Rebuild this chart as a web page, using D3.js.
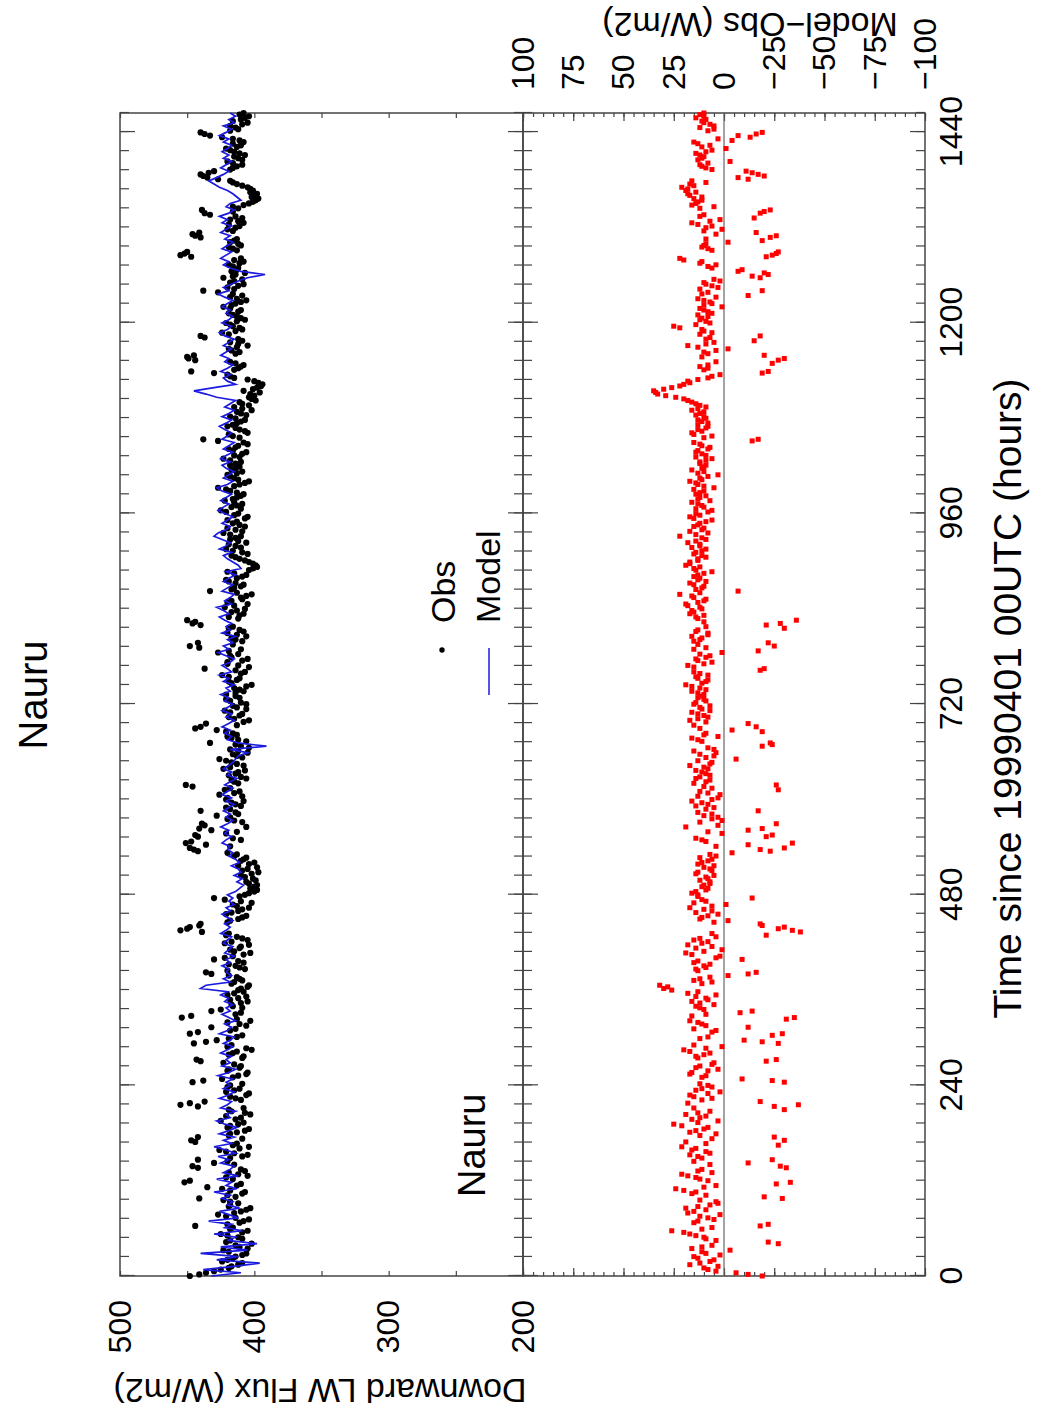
<!DOCTYPE html>
<html>
<head>
<meta charset="utf-8">
<script src="https://cdn.jsdelivr.net/npm/d3@7"></script>
<style>
body { margin:0; background:#fff; }
text { font-family:"Liberation Sans", Arial, Helvetica, sans-serif; fill:#000; }
</style>
</head>
<body>
<div class="container"></div>
<script>
// obs / model / model-obs, one value every step hours
var obs = [
 448,436,425,417,409,420,414,406,423,411,402,418,
 412,425,405,416,420,408,414,427,410,403,418,418,
 441,420,407,424,413,452,416,405,419,410,446,430,
 442,409,415,426,404,413,447,442,418,407,420,412,
 425,410,403,417,408,455,437,414,406,421,411,418,
 446,424,412,405,419,410,423,443,408,416,402,420,
 445,428,413,448,418,432,411,403,454,414,432,409,
 417,405,412,420,408,410,404,415,411,419,436,407,
 414,408,430,416,403,418,410,422,405,413,419,455,
 448,440,418,409,421,412,404,416,410,430,407,400,
 403,398,406,401,410,397,405,412,400,408,415,420,
 445,418,451,410,442,421,432,406,439,415,418,412,
 440,421,414,408,420,426,411,418,451,415,406,419,
 412,423,408,417,426,413,405,418,410,433,412,420,
 416,428,440,436,404,419,409,422,413,406,418,411,
 421,408,415,402,419,411,424,407,437,412,420,405,
 418,427,410,448,442,414,406,420,411,416,446,450,
 419,408,413,422,405,417,410,402,433,415,408,419,
 413,406,420,401,399,404,411,417,409,421,414,406,
 418,410,423,414,407,416,420,405,412,425,417,409,
 422,413,408,418,427,411,404,415,420,409,414,418,
 410,423,415,406,419,412,408,438,416,405,411,420,
 413,407,418,410,402,415,409,399,404,403,408,398,
 394,400,415,420,447,412,408,418,449,445,411,419,
 405,418,412,440,424,409,416,421,407,413,419,410,
 423,414,406,418,416,438,420,408,415,423,414,417,
 412,419,408,410,455,450,416,410,418,413,444,441,
 420,411,408,418,414,437,439,416,404,399,402,398,
 401,405,413,418,435,440,430,416,409,420,412,407,
 415,421,410,408,416,433,440,412,418,405,410,404,
 408];

// obs half way between the samples above
var obsMid = [
 441,430,419,412,424,416,409,419,405,414,421,409,
 420,409,418,444,411,404,421,415,406,419,412,423,
 414,409,418,435,410,448,421,412,407,442,415,420,
 418,405,421,411,416,444,409,419,413,404,418,408,
 414,421,407,419,442,448,410,418,404,415,420,409,
 438,416,406,420,411,415,440,409,419,413,406,417,
 436,419,409,442,414,406,420,413,447,410,425,416,
 410,418,406,415,412,405,417,409,413,432,420,411,
 419,412,422,408,415,411,404,417,409,421,439,450,
 441,420,412,406,417,409,413,402,422,411,404,398,
 400,404,399,407,402,409,398,404,410,406,413,442,
 448,436,447,416,444,413,441,437,409,420,428,414,
 418,410,417,421,409,415,422,446,412,417,410,414,
 407,418,413,421,409,416,412,404,414,406,417,413,
 421,444,413,408,415,411,418,406,416,410,421,414,
 414,411,406,417,413,419,410,414,404,420,409,417,
 412,419,441,416,409,417,413,408,419,440,444,412,
 411,417,407,415,420,409,406,413,417,410,414,421,
 409,415,404,398,401,407,414,405,416,410,419,412,
 414,418,409,420,411,413,407,415,421,410,413,415,
 416,410,413,421,415,407,412,418,413,417,411,414,
 418,411,409,416,414,405,427,411,419,407,414,416,
 410,414,406,413,409,404,411,402,400,396,401,395,
 397,405,418,430,415,410,414,444,450,414,417,413,
 412,409,437,419,414,411,418,413,410,416,412,418,
 417,410,413,409,427,415,412,418,409,416,407,413,
 416,411,415,447,452,413,419,412,415,440,446,416,
 414,419,412,409,433,416,412,408,401,397,400,403,
 403,409,416,427,438,434,418,413,416,409,415,411,
 418,413,416,411,424,437,418,414,409,416,407,411];

var model = [
 432,410,438,415,396,428,412,440,405,425,398,420,
 414,430,409,422,417,434,412,419,426,411,420,416,
 424,418,430,413,421,417,428,412,423,418,415,425,
 419,427,414,421,430,417,423,415,426,419,413,422,
 428,418,421,414,425,420,417,426,419,415,423,418,
 421,416,427,419,414,424,418,421,417,425,420,416,
 423,418,415,426,420,417,422,414,419,424,418,421,
 416,422,419,425,420,440,436,418,423,417,421,419,
 424,418,421,415,422,419,416,423,420,417,425,421,
 418,422,416,420,424,418,421,415,419,416,420,414,
 411,408,413,409,415,410,412,417,411,414,419,416,
 420,418,424,421,417,422,419,425,420,416,421,418,
 423,419,415,421,417,424,420,416,422,418,413,420,
 417,423,419,416,414,412,405,418,391,412,420,417,
 422,418,424,419,415,421,417,424,420,416,422,419,
 425,418,421,415,423,419,426,417,420,424,418,415,
 421,427,419,423,416,420,414,424,418,421,417,422,
 426,419,423,428,417,422,418,415,424,420,416,423,
 419,414,421,410,412,416,420,423,417,426,421,418,
 424,430,427,421,418,424,420,416,422,427,423,419,
 425,421,417,424,428,420,416,423,419,415,421,424,
 418,425,421,416,423,419,415,424,420,417,422,426,
 421,417,424,419,415,422,418,414,428,436,445,430,
 414,420,423,418,425,420,416,422,419,425,421,417,
 423,419,415,422,426,420,417,424,419,416,421,418,
 424,420,416,422,427,419,423,417,412,405,392,410,
 418,423,419,425,421,417,424,420,416,422,418,425,
 421,417,424,420,426,419,415,421,418,410,413,416,
 420,426,430,434,428,423,419,425,421,417,423,419,
 424,420,417,423,419,426,421,417,423,415,419,414,
 418];

var diff = [
 -19,-6,8,3,12,5,15,9,-3,11,-27,4,
 10,17,26,6,-22,13,8,2,15,19,7,4,
 -29,9,14,24,4,-33,12,18,6,11,-28,-12,
 -24,13,7,16,21,9,-30,-25,4,14,8,25,
 3,12,19,7,15,-37,-18,6,17,2,11,8,
 -30,-9,9,16,3,12,5,-26,14,7,20,1,
 -27,-10,8,-29,4,-12,11,17,-35,9,-14,12,
 5,16,9,4,13,30,32,6,12,-2,-16,14,
 10,15,-9,2,19,1,6,11,15,4,6,-34,
 -30,-18,-2,11,3,6,17,-1,9,-14,13,14,
 8,10,7,8,5,13,7,5,11,6,4,-4,
 -18,4,-34,11,-21,1,-12,19,-26,1,3,6,
 -17,5,8,16,3,2,12,6,-26,9,14,7,
 11,8,17,6,-6,5,4,5,-19,-23,13,3,
 9,-4,-16,-12,17,8,13,7,12,15,9,13,
 10,16,12,19,9,13,8,15,-20,18,6,14,
 7,1,15,-25,-22,12,16,8,13,9,-28,-36,
 14,17,16,12,19,10,15,22,-7,11,15,9,
 12,13,6,15,19,17,13,11,14,9,12,18,
 9,22,8,11,15,12,6,17,14,6,10,13,
 7,12,14,10,5,13,17,12,3,10,11,9,
 12,6,9,14,8,11,15,-17,6,16,13,8,
 8,13,10,12,16,9,14,18,24,33,35,26,
 20,18,8,2,-22,8,8,4,-30,-20,10,-2,
 18,5,9,-18,6,11,25,7,12,8,6,10,
 1,6,10,4,11,-19,3,9,2,-18,-22,-7,
 6,4,11,22,-24,-27,8,10,-2,9,-26,-16,
 1,6,16,2,12,-18,-23,5,14,11,11,18,
 19,21,17,16,-7,-17,-11,9,12,-3,11,12,
 9,-1,7,15,3,-7,-19,5,5,10,9,10,
 10];

var diffMid = [
 -12,4,10,17,7,13,2,11,16,6,-22,9,
 14,20,11,-18,15,5,12,18,9,13,3,12,
 -20,16,20,10,-26,8,14,21,13,-31,7,15,
 11,17,9,14,-27,19,6,12,17,10,21,13,
 16,9,13,-30,-25,18,11,15,8,14,6,12,
 -24,11,17,8,14,6,-21,13,10,17,9,15,
 -19,12,-24,6,15,9,13,-31,16,-8,10,14,
 12,8,14,18,26,28,11,15,7,-12,13,9,
 7,13,4,16,10,14,18,8,12,-21,-38,-27,
 -19,5,12,8,14,10,6,15,11,13,16,9,
 11,7,12,9,14,6,10,13,8,12,7,-23,
 -30,-12,9,14,-24,8,-19,3,12,6,10,13,
 9,14,11,6,13,8,-27,10,15,7,12,9,
 14,10,7,13,9,12,15,8,-24,11,16,10,
 -19,12,15,9,13,10,16,11,7,14,10,12,
 13,9,16,11,8,14,12,-18,15,10,13,9,
 12,-17,9,13,15,11,8,14,-30,-21,10,13,
 10,15,11,18,13,9,16,12,14,10,17,13,
 15,10,14,12,17,13,9,15,11,16,12,14,
 11,14,17,10,13,9,15,12,8,14,11,16,
 13,9,12,15,10,14,11,8,13,16,10,12,
 9,14,11,13,7,12,-14,10,15,11,9,13,
 11,9,14,10,13,12,16,20,29,34,30,22,
 17,13,6,-19,10,12,-24,-27,11,8,4,13,
 9,-15,7,12,10,22,14,9,11,13,8,12,
 10,7,13,-12,8,12,6,10,5,-14,-20,-9,
 8,12,20,-21,-26,6,11,9,-19,-23,4,10,
 9,13,7,-15,10,-20,12,16,13,15,17,14,
 18,15,9,-12,-20,-14,6,11,8,13,10,14,
 6,11,13,-4,-13,-16,8,12,7,11,14,12];

var tEnd = 1464;               // 61 days
var step = tEnd / (obs.length - 1);
var timeMajor = [0,240,480,720,960,1200,1440];
var fluxTicks = [200,250,300,350,400,450,500];
var diffMajor = [-100,-75,-50,-25,0,25,50,75,100];

// drawn in landscape, then turned -90deg onto the portrait page
var L = 140, R = 1303, T = 120, M = 523, B = 925;

var svg = d3.select(".container").append("svg")
	.attr("width",1037)
	.attr("height",1416);
var g = svg.append("g").attr("transform","translate(0,1416) rotate(-90)");

var x = d3.scaleLinear().domain([0,tEnd]).range([L,R]);
var yF = d3.scaleLinear().domain([200,500]).range([M,T]);
var yD = d3.scaleLinear().domain([-100,100]).range([B,M]);

var minorT = d3.range(0,tEnd+1,24);
var minorD = d3.range(-100,101,5);

function ax(axis, tx, ty) {
	var a = g.append("g").attr("transform","translate("+tx+","+ty+")").call(axis);
	a.select(".domain").remove();
	a.selectAll("line").attr("stroke","#444").attr("stroke-width",1.2);
	a.selectAll("text").style("font-size","32px").style("font-family","Liberation Sans, Arial, sans-serif");
	return a;
}

// time axes
ax(d3.axisBottom(x).tickValues(minorT).tickSizeInner(-9).tickFormat(""),0,B);
ax(d3.axisBottom(x).tickValues(timeMajor).tickSizeInner(-15).tickPadding(14).tickFormat(d3.format("d")),0,B);
ax(d3.axisTop(x).tickValues(minorT).tickSizeInner(-9).tickFormat(""),0,T);
ax(d3.axisTop(x).tickValues(timeMajor).tickSizeInner(-15).tickFormat(""),0,T);
ax(d3.axisTop(x).tickValues(minorT).tickSizeInner(-9).tickFormat(""),0,M);
ax(d3.axisTop(x).tickValues(timeMajor).tickSizeInner(-15).tickFormat(""),0,M);
ax(d3.axisBottom(x).tickValues(minorT).tickSizeInner(-9).tickFormat(""),0,M);
ax(d3.axisBottom(x).tickValues(timeMajor).tickSizeInner(-15).tickFormat(""),0,M);

// flux axes
ax(d3.axisLeft(yF).tickValues(fluxTicks).tickSizeInner(-5).tickPadding(24)
	.tickFormat(function(d){ return d % 100 == 0 ? d : ""; }),L,0);
ax(d3.axisRight(yF).tickValues(fluxTicks).tickSizeInner(-5).tickFormat(""),R,0);

// model-obs axes
ax(d3.axisLeft(yD).tickValues(minorD).tickSizeInner(-4).tickFormat(""),L,0);
ax(d3.axisLeft(yD).tickValues(diffMajor).tickSizeInner(-8).tickFormat(""),L,0);
ax(d3.axisRight(yD).tickValues(minorD).tickSizeInner(-4).tickFormat(""),R,0);
ax(d3.axisRight(yD).tickValues(diffMajor).tickSizeInner(-8).tickPadding(23)
	.tickFormat(function(d){ return d < 0 ? "\u2212" + (-d) : d; }),R,0);

// frames
g.append("rect").attr("x",L).attr("y",T).attr("width",R-L).attr("height",M-T)
	.attr("fill","none").attr("stroke","#444").attr("stroke-width",1.5);
g.append("rect").attr("x",L).attr("y",M).attr("width",R-L).attr("height",B-M)
	.attr("fill","none").attr("stroke","#444").attr("stroke-width",1.5);

// zero line
g.append("line").attr("x1",L).attr("x2",R).attr("y1",yD(0)).attr("y2",yD(0))
	.attr("stroke","#666").attr("stroke-width",1.2);

// obs dots
function dots(vals, off) {
	g.append("g").selectAll("circle").data(vals).enter().append("circle")
		.attr("cx",function(d,i){ return x((i+off)*step); })
		.attr("cy",function(d){ return yF(d); })
		.attr("r",3.1)
		.attr("fill","#000");
}
dots(obs,0);
dots(obsMid,0.5);

// model line
var line = d3.line()
	.x(function(d,i){ return x(i*step); })
	.y(function(d){ return yF(d); });
g.append("path").datum(model).attr("d",line)
	.attr("fill","none").attr("stroke","#1a1ae0").attr("stroke-width",1.7);

// model - obs squares
var s = 5;
function squares(vals, off) {
	g.append("g").selectAll("rect").data(vals).enter().append("rect")
		.attr("x",function(d,i){ return x((i+off)*step) - s/2; })
		.attr("y",function(d){ return yD(d) - s/2; })
		.attr("width",s).attr("height",s)
		.attr("fill","#ff0000");
}
squares(diff,0);
squares(diffMid,0.5);

// texts
g.append("text").attr("x",721).attr("y",47).attr("text-anchor","middle")
	.style("font-size","40px").text("Nauru");
g.append("text").attr("x",219).attr("y",485).style("font-size","38px").text("Nauru");

g.append("text").attr("transform","translate(37,320) rotate(-90)").attr("text-anchor","middle")
	.style("font-size","34px").text("Downward LW Flux  (W/m2)");
g.append("text").attr("transform","translate(1403,750) rotate(-90)").attr("text-anchor","middle")
	.style("font-size","34px").text("Model\u2212Obs  (W/m2)");
g.append("text").attr("x",(L+R)/2 - 4).attr("y",1021).attr("text-anchor","middle")
	.style("font-size","39px").text("Time since 19990401 00UTC  (hours)");

// legend
g.append("circle").attr("cx",766).attr("cy",442).attr("r",2.7).attr("fill","#000");
g.append("text").attr("x",793).attr("y",455).style("font-size","34px").text("Obs");
g.append("line").attr("x1",721).attr("x2",768).attr("y1",489).attr("y2",489)
	.attr("stroke","#1a1ae0").attr("stroke-width",1.5);
g.append("text").attr("x",793).attr("y",500).style("font-size","34px").text("Model");
</script>
</body>
</html>
